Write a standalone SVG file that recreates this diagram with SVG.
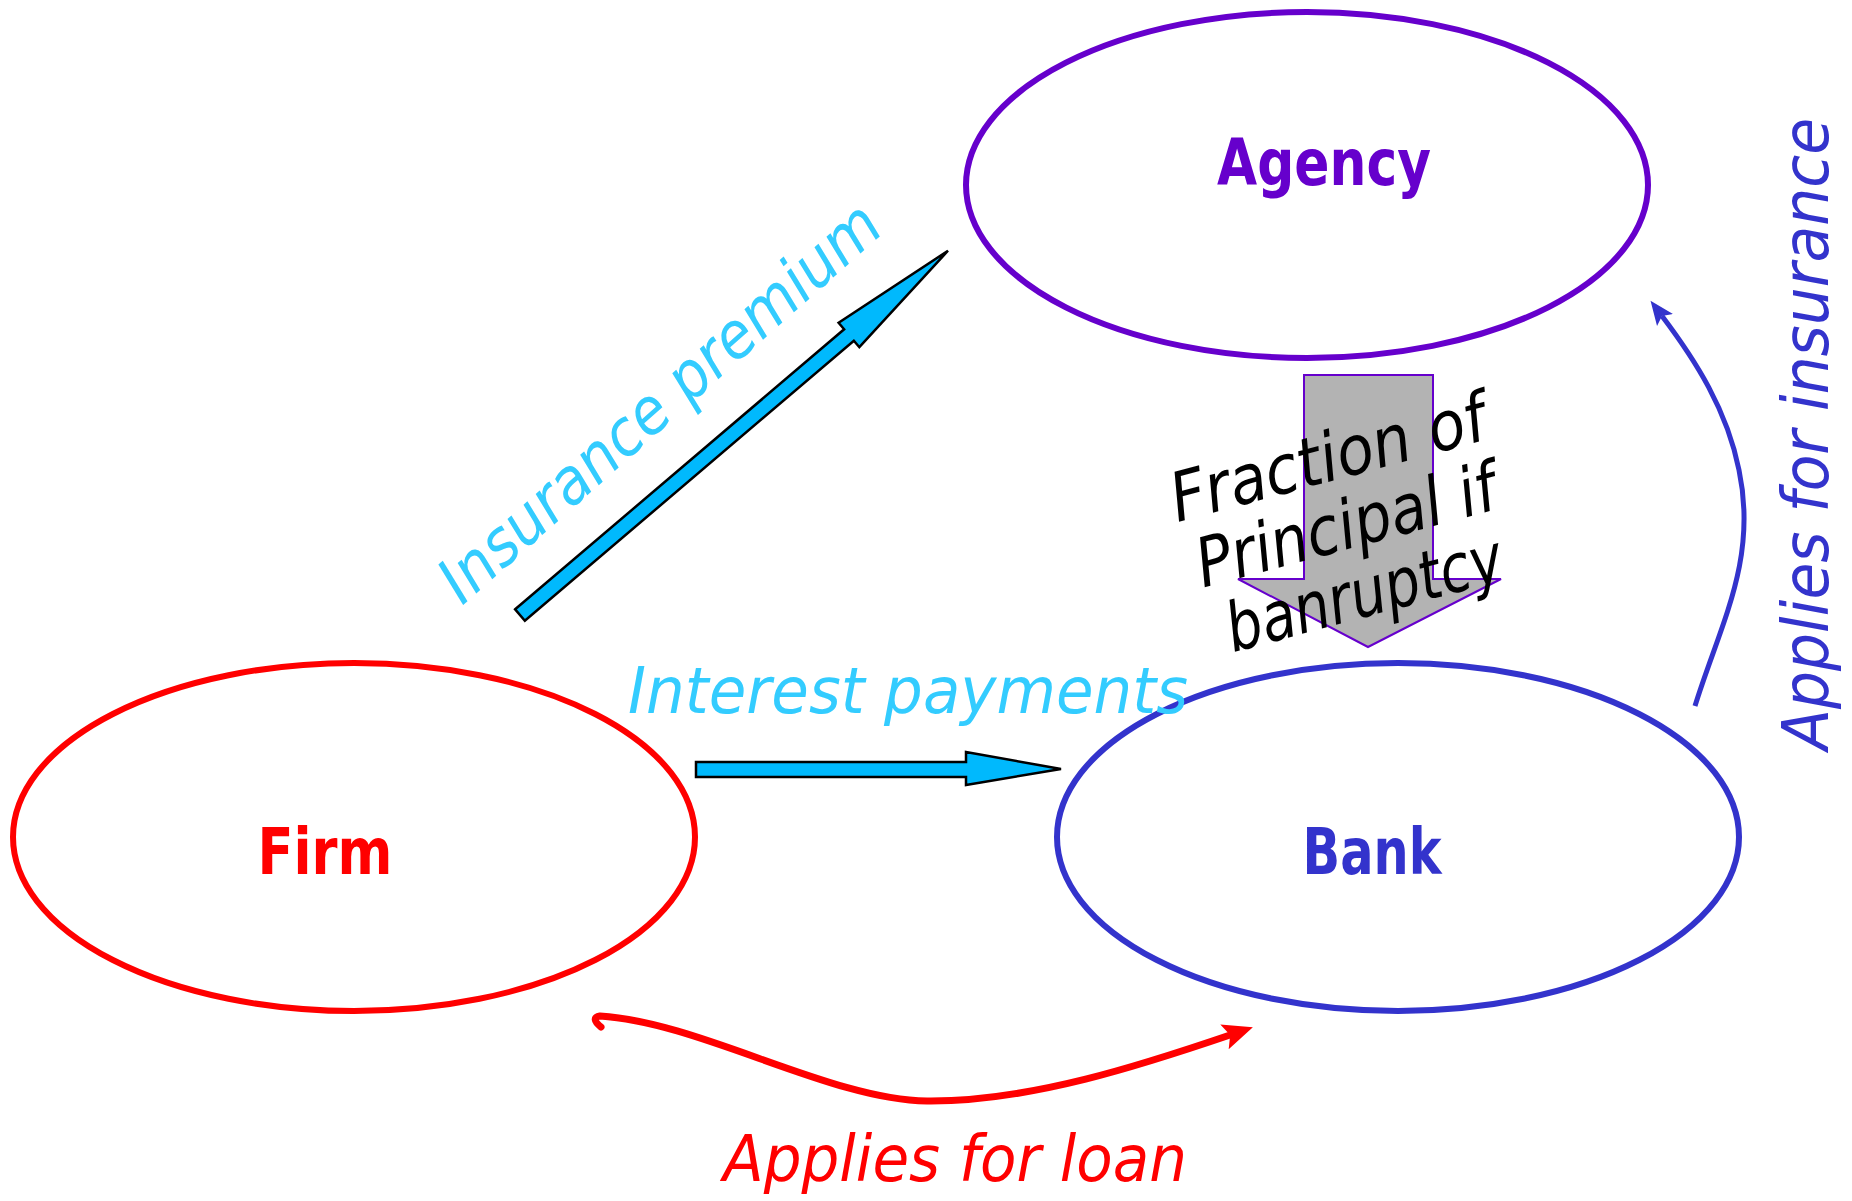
<svg xmlns="http://www.w3.org/2000/svg" width="1852" height="1201" viewBox="0 0 1852 1201">
  <style>
    .node { fill: none; stroke-width: 6; }
    .lbl { font-family: "DejaVu Sans", "Liberation Sans", sans-serif; font-weight: bold; font-size: 64px; text-anchor: middle; }
    .note { font-family: "DejaVu Sans", "Liberation Sans", sans-serif; font-style: oblique; font-size: 64px; }
    .cyan { fill: #33CCFF; }
    .flow { fill: #00B9FD; stroke: #000; stroke-width: 2.5; stroke-linejoin: miter; }
    .frac { font-family: "DejaVu Sans", "Liberation Sans", sans-serif; font-style: oblique; font-size: 68px; fill: #000; text-anchor: middle; }
  </style>
  <defs>
    <marker id="headRed" markerUnits="userSpaceOnUse" markerWidth="34" markerHeight="28" refX="9" refY="13" orient="auto" viewBox="0 0 34 26">
      <path d="M0,0 L30,13 L0,26 L6,13 Z" fill="#FF0000"/>
    </marker>
    <marker id="headBlue" markerUnits="userSpaceOnUse" markerWidth="28" markerHeight="22" refX="5" refY="10" orient="auto" viewBox="0 0 28 20">
      <path d="M0,0 L24,10 L0,20 L5,10 Z" fill="#3333CC"/>
    </marker>
  </defs>
  <rect width="1852" height="1201" fill="#FFFFFF"/>

  <g id="agency">
    <ellipse class="node" cx="1307" cy="185" rx="341" ry="173" stroke="#6600CC"/>
    <text class="lbl" x="1324" y="185" fill="#6600CC" textLength="214" lengthAdjust="spacingAndGlyphs">Agency</text>
  </g>
  <g id="firm">
    <ellipse class="node" cx="354" cy="837" rx="341" ry="174" stroke="#FF0000"/>
    <text class="lbl" x="325" y="874" fill="#FF0000" textLength="135" lengthAdjust="spacingAndGlyphs">Firm</text>
  </g>
  <g id="bank">
    <ellipse class="node" cx="1398" cy="837" rx="341" ry="174" stroke="#3333CC"/>
    <text class="lbl" x="1372" y="874" fill="#3333CC" textLength="139" lengthAdjust="spacingAndGlyphs">Bank</text>
  </g>

  <g id="connectors">
    <!-- premium: firm to agency -->
    <polygon class="flow" transform="translate(520,615) rotate(-40.4)" points="0,-7.5 432,-7.5 432,-16 562,0 432,16 432,7.5 0,7.5"/>
    <text class="note cyan" transform="translate(462,606) rotate(-41.5)" textLength="566" lengthAdjust="spacingAndGlyphs">Insurance premium</text>

    <!-- interest: firm to bank -->
    <polygon class="flow" points="696,762 966,762 966,752 1061,769 966,785 966,777 696,777"/>
    <text class="note cyan" x="628" y="713" textLength="560" lengthAdjust="spacingAndGlyphs">Interest payments</text>

    <!-- payout: agency to bank -->
    <polygon points="1304,375 1433,375 1433,579 1501,579 1368,647 1238,579 1304,579" fill="#B3B3B3" stroke="#6600CC" stroke-width="2"/>
    <g transform="translate(1352,548) rotate(-15)">
      <text class="frac" x="0" y="-70" textLength="324" lengthAdjust="spacingAndGlyphs">Fraction of</text>
      <text class="frac" x="0" y="0" textLength="308" lengthAdjust="spacingAndGlyphs">Principal if</text>
      <text class="frac" x="0" y="70" textLength="284" lengthAdjust="spacingAndGlyphs">banruptcy</text>
    </g>

    <!-- loan application: firm to bank -->
    <path d="M601,1027 Q590,1018 600,1016 C700,1022 830,1100 927,1101 C1030,1102 1145,1064 1233,1034" fill="none" stroke="#FF0000" stroke-width="7" stroke-linecap="round" marker-end="url(#headRed)"/>
    <text class="note" x="723" y="1181" fill="#FF0000" font-size="66" textLength="464" lengthAdjust="spacingAndGlyphs">Applies for loan</text>

    <!-- insurance application: bank to agency -->
    <path d="M1695,706 C1720,625 1758,560 1739,470 C1727,410 1696,361 1662,316" fill="none" stroke="#3333CC" stroke-width="5" marker-end="url(#headBlue)"/>
    <text class="note" transform="translate(1828,750) rotate(-90)" fill="#3333CC" font-size="62" textLength="632" lengthAdjust="spacingAndGlyphs">Applies for insurance</text>
  </g>
</svg>
